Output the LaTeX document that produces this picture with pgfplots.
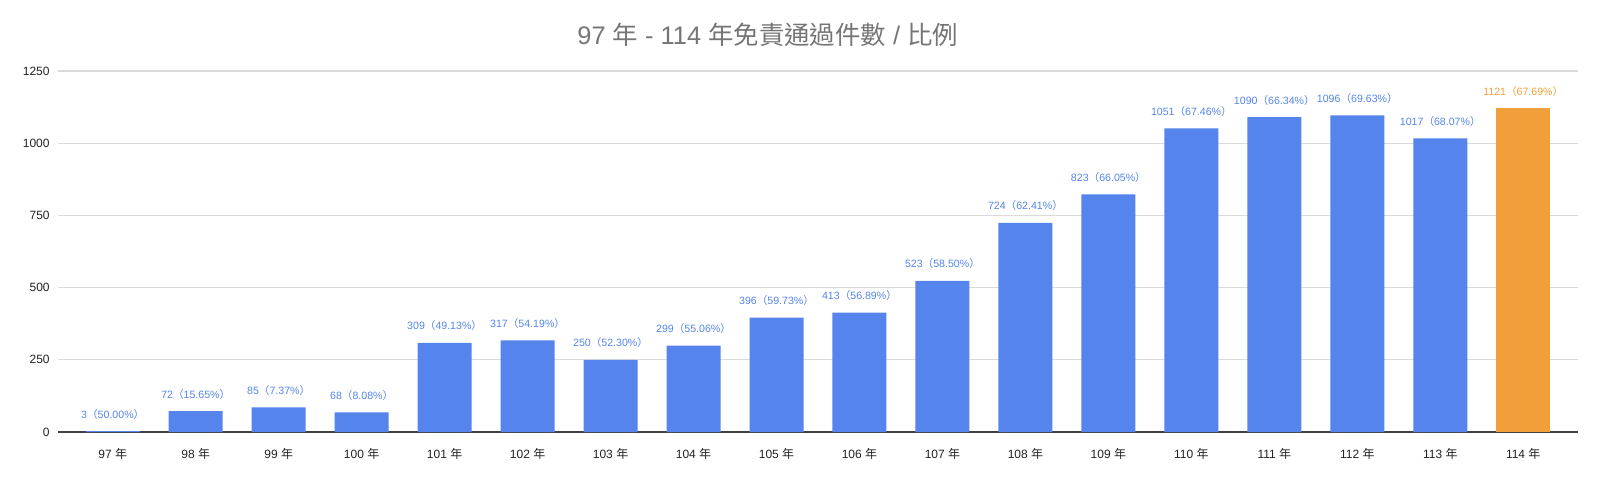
\documentclass[border=0pt]{standalone}
\usepackage{fontspec}
\setmainfont{Liberation Sans}
\newfontfamily\cjk{Noto Sans CJK TC}
\usepackage{pgfplots}
\pgfplotsset{compat=1.18}
\usepackage{pgfplotstable}
\definecolor{barblue}{HTML}{5484EC}
\definecolor{barorange}{HTML}{F09F3A}
\definecolor{titlegray}{HTML}{757575}
\definecolor{gridgray}{HTML}{DADADA}
\definecolor{ticktext}{HTML}{222222}

\pgfplotstableread{
x y p
0 3 50.00
1 72 15.65
2 85 7.37
3 68 8.08
4 309 49.13
5 317 54.19
6 250 52.30
7 299 55.06
8 396 59.73
9 413 56.89
10 523 58.50
11 724 62.41
12 823 66.05
13 1051 67.46
14 1090 66.34
15 1096 69.63
16 1017 68.07
}\bluedata
\pgfplotstableread{
x y p
17 1121 67.69
}\orangedata

\begin{document}
\begin{tikzpicture}
\begin{axis}[
  at={(29pt,28pt)}, anchor=south west,
  scale only axis, width=760pt, height=180.5pt,
  ymin=0, ymax=1250, ytick={0,250,500,750,1000,1250},
  xmin=-0.66, xmax=17.66,
  xtick={0,...,17},
  xticklabels={97 {\cjk 年},98 {\cjk 年},99 {\cjk 年},100 {\cjk 年},101 {\cjk 年},102 {\cjk 年},103 {\cjk 年},104 {\cjk 年},105 {\cjk 年},106 {\cjk 年},107 {\cjk 年},108 {\cjk 年},109 {\cjk 年},110 {\cjk 年},111 {\cjk 年},112 {\cjk 年},113 {\cjk 年},114 {\cjk 年}},
  ybar, bar width=27pt, bar shift=0pt,
  axis line style={draw=none},
  major tick length=0pt,
  ymajorgrids, grid style={gridgray, line width=0.6pt},
  extra y ticks={0}, extra y tick labels={},
  extra y tick style={grid style={draw=black!75, line width=0.7pt}},
  /pgf/number format/assume math mode=true,
  /pgf/number format/1000 sep={},
  tick label style={font=\fontsize{6}{7}\selectfont, text=ticktext},
  yticklabel style={anchor=east, inner sep=0pt, xshift=-4pt},
  xticklabel style={anchor=center, inner sep=0pt, yshift=-11pt},
  nodes near coords style={font=\fontsize{5.3}{6}\selectfont, anchor=center, yshift=8.5pt, inner sep=0pt},
]
\addplot[fill=barblue, draw=none,
  visualization depends on={\thisrow{p} \as \pct},
  nodes near coords={\pgfmathprintnumber[fixed,precision=0,1000 sep={},assume math mode=true]{\pgfplotspointmeta}{\cjk （}\pgfmathprintnumber[fixed,fixed zerofill,precision=2,assume math mode=true]{\pct}\%{\cjk ）}},
  every node near coord/.append style={text=barblue}]
  table[x=x, y=y] {\bluedata};
\addplot[fill=barorange, draw=none,
  visualization depends on={\thisrow{p} \as \pct},
  nodes near coords={\pgfmathprintnumber[fixed,precision=0,1000 sep={},assume math mode=true]{\pgfplotspointmeta}{\cjk （}\pgfmathprintnumber[fixed,fixed zerofill,precision=2,assume math mode=true]{\pct}\%{\cjk ）}},
  every node near coord/.append style={text=barorange}]
  table[x=x, y=y] {\orangedata};
\end{axis}
\node[text=titlegray, font=\fontsize{12.7}{15}\selectfont, inner sep=0pt, anchor=west] at (288.5pt,226.8pt)
  {97 {\cjk 年} - 114 {\cjk 年免責通過件數} / {\cjk 比例}};
\pgfresetboundingbox
\path[use as bounding box] (0pt,0pt) rectangle (802pt,244pt);
\end{tikzpicture}
\end{document}
